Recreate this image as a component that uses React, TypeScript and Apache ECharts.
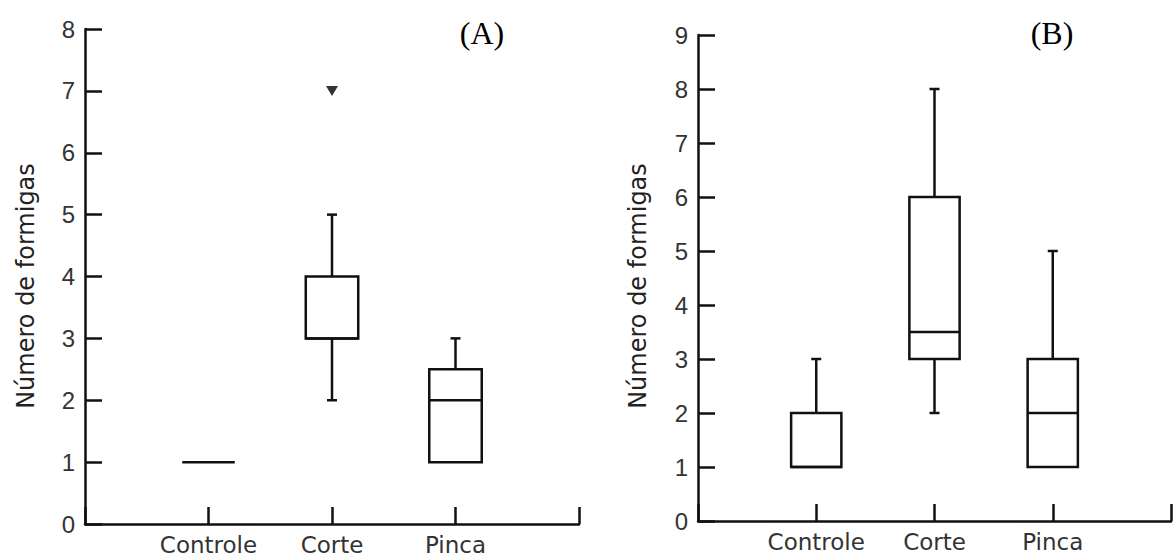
import React, { useEffect, useRef } from "react";
import * as echarts from "echarts";

// ---- data ----
const categories = ["Controle", "Corte", "Pinca"];

// Panel (A)
const aMin = [1, 2, 1];
const aQ1 = [1, 3, 1];
const aMedian = [1, 3, 2];
const aQ3 = [1, 4, 2.5];
const aMax = [1, 5, 3];
const aOutlierCategory = ["Corte"];
const aOutlierValue = [7];
const aYMax = 8;

// Panel (B)
const bMin = [1, 2, 1];
const bQ1 = [1, 3, 1];
const bMedian = [1, 3.5, 2];
const bQ3 = [2, 6, 3];
const bMax = [3, 8, 5];
const bYMax = 9;

const yTitle = "Número de formigas";
const panelLabels = ["(A)", "(B)"];

// ---- styling ----
const INK = "#111";
const LW = 2.5;
const BOX_W = 0.425;
const CAP_HALF = 5;

function boxRows(mn: number[], q1: number[], md: number[], q3: number[], mx: number[]) {
  return categories.map((_, i) => [i + 1, mn[i], q1[i], md[i], q3[i], mx[i]]);
}

function renderBox(params: any, api: any) {
  const x = api.value(0);
  const mn = api.value(1);
  const q1 = api.value(2);
  const md = api.value(3);
  const q3 = api.value(4);
  const mx = api.value(5);
  const [cx, yMin] = api.coord([x, mn]);
  const yQ1 = api.coord([x, q1])[1];
  const yMd = api.coord([x, md])[1];
  const yQ3 = api.coord([x, q3])[1];
  const yMax = api.coord([x, mx])[1];
  const halfW = api.size([BOX_W, 0])[0] / 2;
  const lineStyle = { stroke: INK, lineWidth: LW };
  const children: any[] = [];
  if (q3 > q1) {
    children.push({
      type: "rect",
      shape: { x: cx - halfW, y: yQ3, width: 2 * halfW, height: yQ1 - yQ3 },
      style: { stroke: INK, lineWidth: LW, fill: "none" },
    });
  }
  children.push({
    type: "line",
    shape: { x1: cx - halfW, y1: yMd, x2: cx + halfW, y2: yMd },
    style: lineStyle,
  });
  if (mx > q3) {
    children.push({ type: "line", shape: { x1: cx, y1: yQ3, x2: cx, y2: yMax }, style: lineStyle });
    children.push({
      type: "line",
      shape: { x1: cx - CAP_HALF, y1: yMax, x2: cx + CAP_HALF, y2: yMax },
      style: lineStyle,
    });
  }
  if (mn < q1) {
    children.push({ type: "line", shape: { x1: cx, y1: yQ1, x2: cx, y2: yMin }, style: lineStyle });
    children.push({
      type: "line",
      shape: { x1: cx - CAP_HALF, y1: yMin, x2: cx + CAP_HALF, y2: yMin },
      style: lineStyle,
    });
  }
  return { type: "group", children };
}

function xAxisFor(gridIndex: number) {
  return {
    type: "value",
    gridIndex,
    min: 0,
    max: 4,
    interval: 1,
    axisLine: { show: true, lineStyle: { color: INK, width: LW } },
    axisTick: { show: true, inside: true, length: 17, lineStyle: { color: INK, width: LW } },
    axisLabel: {
      margin: 9,
      color: "#333",
      fontFamily: '"DejaVu Sans", sans-serif',
      fontSize: 23,
      lineHeight: 24,
      formatter: (v: number) => categories[v - 1] ?? "",
    },
    splitLine: { show: false },
  };
}

function yAxisFor(gridIndex: number, max: number) {
  return {
    type: "value",
    gridIndex,
    min: 0,
    max,
    interval: 1,
    axisLine: { show: true, lineStyle: { color: INK, width: LW } },
    axisTick: { show: true, inside: true, length: 17, lineStyle: { color: INK, width: LW } },
    axisLabel: {
      margin: 10,
      color: "#333",
      fontFamily: '"Liberation Sans", Arial, sans-serif',
      fontSize: 24,
    },
    splitLine: { show: false },
  };
}

function titleText(x: number) {
  return {
    type: "text",
    x,
    y: 286,
    rotation: Math.PI / 2,
    style: {
      text: yTitle,
      align: "center",
      verticalAlign: "middle",
      font: '24px "DejaVu Sans", sans-serif',
      fill: "#222",
    },
  };
}

function panelText(x: number, text: string) {
  return {
    type: "text",
    x,
    y: 33,
    style: {
      text,
      align: "center",
      verticalAlign: "middle",
      font: '32px "Liberation Serif", "Times New Roman", serif',
      fill: "#000",
    },
  };
}

export default function App() {
  const ref = useRef<HTMLDivElement>(null);
  useEffect(() => {
    if (!ref.current) return;
    const chart = echarts.init(ref.current, undefined, { renderer: "svg" });
    chart.setOption({
      animation: false,
      backgroundColor: "#fff",
      grid: [
        { left: 85, top: 29, width: 494, height: 495 },
        { left: 698, top: 35, width: 484, height: 486 },
      ],
      xAxis: [xAxisFor(0), xAxisFor(1)],
      yAxis: [yAxisFor(0, aYMax), yAxisFor(1, bYMax)],
      series: [
        {
          type: "custom",
          xAxisIndex: 0,
          yAxisIndex: 0,
          renderItem: renderBox,
          encode: { x: 0, y: [1, 2, 3, 4, 5] },
          data: boxRows(aMin, aQ1, aMedian, aQ3, aMax),
        },
        {
          type: "custom",
          xAxisIndex: 1,
          yAxisIndex: 1,
          renderItem: renderBox,
          encode: { x: 0, y: [1, 2, 3, 4, 5] },
          data: boxRows(bMin, bQ1, bMedian, bQ3, bMax),
        },
        {
          type: "scatter",
          xAxisIndex: 0,
          yAxisIndex: 0,
          symbol: "triangle",
          symbolRotate: 180,
          symbolSize: [12, 10],
          itemStyle: { color: "#000" },
          data: aOutlierCategory.map((c, i) => [categories.indexOf(c) + 1, aOutlierValue[i]]),
        },
      ],
      graphic: [
        titleText(26),
        titleText(638),
        panelText(482, panelLabels[0]),
        panelText(1052, panelLabels[1]),
      ],
    });
    return () => chart.dispose();
  }, []);
  return (
    <div
      ref={ref}
      style={{ position: "absolute", left: 0, top: 0, width: 1174, height: 560 }}
    />
  );
}
